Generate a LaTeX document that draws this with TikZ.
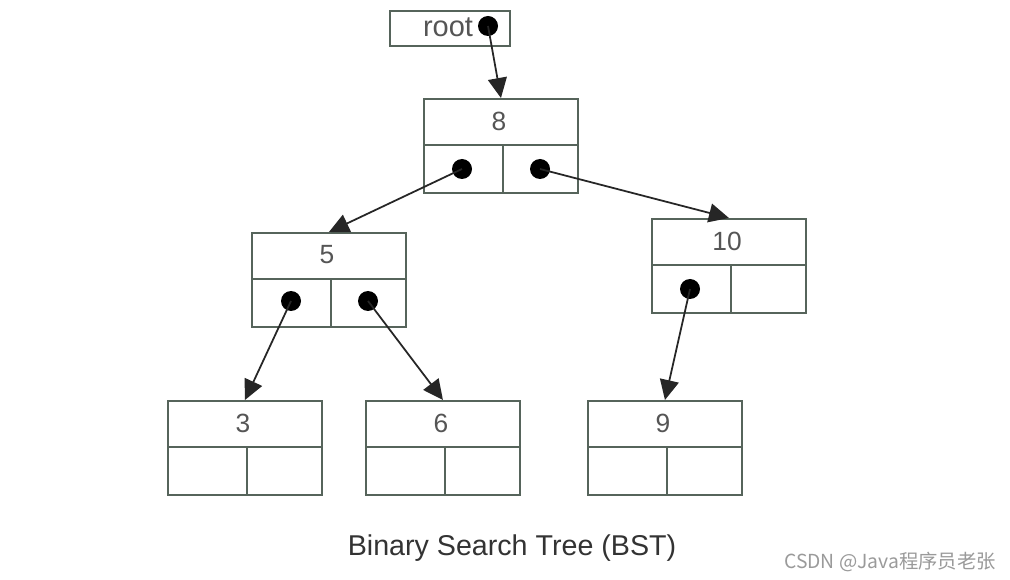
\documentclass[tikz,border=0pt]{standalone}
\usepackage{fontspec}
\setmainfont{Liberation Sans}
\newfontfamily\cjk{Noto Sans CJK SC}
\usetikzlibrary{arrows.meta}
\definecolor{boxline}{HTML}{56645B}
\definecolor{numtext}{HTML}{555555}
\definecolor{captext}{HTML}{333333}
\definecolor{wmtext}{HTML}{9A9A9A}
\newcommand\bstbox[4]{%
  \node[box, anchor=north west] (#1) at (#2,#3) {};
  \draw[part] (#2,#3+47) -- (#2+154,#3+47);
  \draw[part] (#2+80,#3+47) -- (#2+80,#3+94);
  \node[num] (#1t) at (#2+76,#3+23) {#4};
}
\begin{document}
\begin{tikzpicture}[x=0.02cm,y=-0.02cm,
  box/.style={draw=boxline, line width=1.1pt, rectangle, inner sep=0pt,
    minimum width=3.08cm, minimum height=1.88cm},
  part/.style={draw=boxline, line width=1.1pt},
  num/.style={text=numtext, font=\fontsize{15}{17}\selectfont, inner sep=0pt},
  dot/.style={circle, fill=black, inner sep=0pt, minimum size=0.4cm},
  arr/.style={draw=black!85, line width=1pt, -{Triangle[length=0.4cm,width=0.38cm]}}]
\useasboundingbox (0,0) rectangle (1010,580);
\fill[white] (0,0) rectangle (1010,580);
% root
\node[box, anchor=north west, minimum width=2.4cm, minimum height=0.7cm] (root) at (389,10) {};
\node[num, font=\fontsize{16.5}{18}\selectfont] (roott) at (448,27) {root};
\node[dot] (rootd) at (488,26) {};
% tree nodes
\bstbox{n8}{423}{98}{8}
\bstbox{n5}{251}{232}{5}
\bstbox{n10}{651}{218}{10}
\bstbox{n3}{167}{400}{3}
\bstbox{n6}{365}{400}{6}
\bstbox{n9}{587}{400}{9}
% dots
\node[dot] (n8l) at (462,169) {};
\node[dot] (n8r) at (540,169) {};
\node[dot] (n5l) at (291,301) {};
\node[dot] (n5r) at (368,301) {};
\node[dot] (n10l) at (690,289) {};
% arrows
\draw[arr] (rootd.center) -- (n8.north);
\draw[arr] (n8l.center) -- (n5.north);
\draw[arr] (n8r.center) -- (n10.north);
\draw[arr] (n5l.center) -- (n3.north);
\draw[arr] (n5r.center) -- (n6.north);
\draw[arr] (n10l.center) -- (n9.north);
% caption
\node[text=captext, font=\fontsize{16.3}{19}\selectfont] (cap) at (512,548) {Binary Search Tree (BST)};
\node[text=wmtext, font=\cjk\fontsize{11}{13}\selectfont] (wm) at (890,562) {CSDN @Java程序员老张};
\end{tikzpicture}
\end{document}
